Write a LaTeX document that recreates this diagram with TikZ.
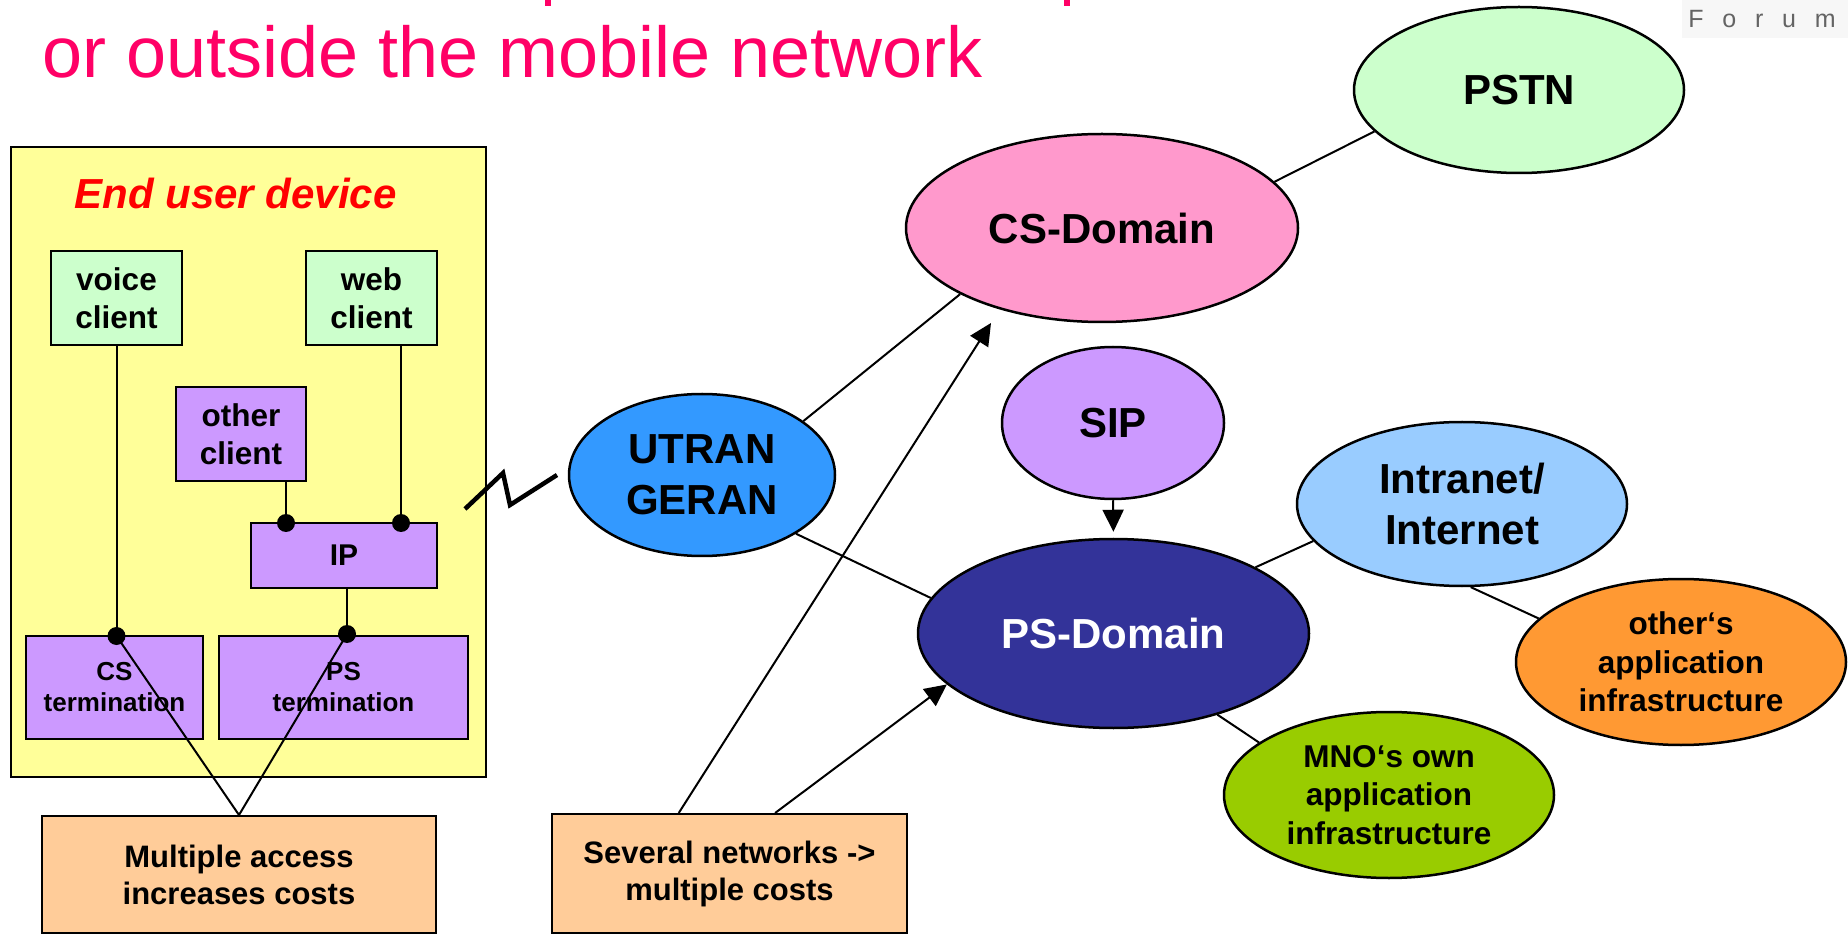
\documentclass[tikz,border=0pt]{standalone}
\usepackage{fontspec}
\setmainfont{Liberation Sans}
\usetikzlibrary{shapes.geometric,arrows.meta,calc}
\definecolor{titlepink}{RGB}{255,0,102}
\definecolor{devyellow}{RGB}{255,255,153}
\definecolor{clientgreen}{RGB}{204,255,204}
\definecolor{lilac}{RGB}{204,153,255}
\definecolor{peach}{RGB}{255,204,153}
\definecolor{cspink}{RGB}{255,153,204}
\definecolor{utranblue}{RGB}{51,153,255}
\definecolor{psblue}{RGB}{51,51,153}
\definecolor{netblue}{RGB}{153,204,255}
\definecolor{othorange}{RGB}{255,153,51}
\definecolor{mnogreen}{RGB}{153,204,0}
\definecolor{logobg}{RGB}{247,247,247}
\definecolor{forumgray}{RGB}{100,100,100}
\tikzset{
  box/.style={rectangle, draw=black, line width=1pt, inner sep=0pt, align=center,
    font=\bfseries\fontsize{15.75}{19}\selectfont},
  smallbox/.style={box, font=\bfseries\fontsize{13}{15.5}\selectfont},
  ell/.style={ellipse, draw=black, line width=1.25pt, inner sep=0pt, align=center,
    font=\bfseries\fontsize{21}{25.75}\selectfont},
  smallell/.style={ell, font=\bfseries\fontsize{15.75}{19.25}\selectfont},
  conn/.style={line width=1pt},
  arr/.style={line width=1pt, -{Triangle[length=11pt,width=10.5pt]}},
  dotn/.style={circle, fill=black, inner sep=0pt, minimum size=9pt},
}
\begin{document}
\begin{tikzpicture}[x=0.5pt,y=-0.5pt]
\useasboundingbox (0,0) rectangle (1848,935);
\fill[white] (0,0) rectangle (1848,935);

% cut-off first title line and logo
\fill[titlepink] (545,0) rectangle (551,6);
\fill[titlepink] (1064,0) rectangle (1070,6);
\fill[logobg] (1682,0) rectangle (1848,38);
\node[anchor=base west, inner sep=0pt, text=forumgray,
  font=\fontsize{12.5}{14}\selectfont\addfontfeature{LetterSpace=75}] (forum) at (1688,28) {Forum};

% title
\node[anchor=base west, inner sep=0pt, text=titlepink, font=\fontsize{36}{43}\selectfont] (title) at (42,78) {or outside the mobile network};

% end user device
\node[box, fill=devyellow, minimum width=237.5pt, minimum height=315pt] (dev) at (248.5,462) {};
\node[anchor=base west, inner sep=0pt, text=red, font=\bfseries\itshape\fontsize{21}{25}\selectfont] (devlabel) at (74,209) {End user device};

\node[box, fill=clientgreen, minimum width=65.5pt, minimum height=47pt] (voice) at (116.5,298) {voice\\client};
\node[box, fill=clientgreen, minimum width=65.5pt, minimum height=47pt] (web) at (371.5,298) {web\\client};
\node[box, fill=lilac, minimum width=65pt, minimum height=47pt] (other) at (241,434) {other\\client};
\node[box, fill=lilac, minimum width=93pt, minimum height=32.5pt, font=\bfseries\fontsize{15}{18}\selectfont] (ip) at (344,555.5) {IP};
\node[smallbox, fill=lilac, minimum width=88.5pt, minimum height=51.5pt] (csterm) at (114.5,687.5) {CS\\termination};
\node[smallbox, fill=lilac, minimum width=124.5pt, minimum height=51.5pt] (psterm) at (343.5,687.5) {PS\\termination};

\node[box, fill=peach, minimum width=197pt, minimum height=58.5pt, font=\bfseries\fontsize{15.5}{18.5}\selectfont] (multi) at (239,874.5) {Multiple access\\increases costs};
\node[box, fill=peach, minimum width=177.5pt, minimum height=59.5pt, font=\bfseries\fontsize{15.5}{18.5}\selectfont] (several) at (729.5,873.5) {Several networks ->\\multiple costs};

% internal connectors
\draw[conn] (voice.south) -- (116.5,636);
\draw[conn] (web.south -| 401,0) -- (401,523);
\draw[conn] (other.south -| 286,0) -- (286,523);
\draw[conn] (ip.south -| 347,0) -- (347,634);
\node[dotn] (vdot) at (116.5,636) {};
\node[dotn] (wdot) at (401,523) {};
\node[dotn] (odot) at (286,523) {};
\node[dotn] (ipdot) at (347,634) {};
\draw[conn] (vdot.center) -- (multi.north);
\draw[conn] (ipdot.center) -- (multi.north);

% network ellipses
\node[ell, fill=clientgreen, minimum width=165pt, minimum height=83pt] (pstn) at (1519,90) {PSTN};
\node[ell, fill=cspink, minimum width=196pt, minimum height=94pt] (cs) at (1102,228) {CS-Domain};
\node[ell, fill=lilac, minimum width=111pt, minimum height=76pt] (sip) at (1113,423) {SIP};
\node[ell, fill=utranblue, minimum width=133pt, minimum height=81pt] (utran) at (702,475) {UTRAN\\GERAN};
\node[ell, fill=psblue, text=white, minimum width=195.5pt, minimum height=94.5pt] (ps) at (1113.5,633.5) {PS-Domain};
\node[ell, fill=netblue, minimum width=165pt, minimum height=82pt] (net) at (1462,504) {Intranet/\\Internet};
\node[smallell, fill=othorange, minimum width=165pt, minimum height=83pt] (others) at (1681,662) {other‘s\\application\\infrastructure};
\node[smallell, fill=mnogreen, minimum width=165pt, minimum height=83pt] (mno) at (1389,795) {MNO‘s own\\application\\infrastructure};

% radio link
\draw[line width=2.25pt] (465,509) -- (503,473) -- (510,505) -- (557,475);

% network connectors
\draw[conn] (pstn.196.6) -- (cs.15.5);
\draw[conn] (utran.28.8) -- (cs.205.7);
\draw[conn] (utran.-32) -- (ps.169.2);
\draw[conn] (ps.25.3) -- (net.194.8);
\draw[conn] (net.-84) -- (others.163.7);
\draw[conn] (ps.-38) -- (mno.158);
\draw[arr, shorten >=3pt] (sip.south) -- (ps.north);
\coordinate (cstip) at (991,323);
\draw[arr] (several.130.3) -- (cstip);
\draw[arr] (several.53.8) -- (ps.197);
\end{tikzpicture}
\end{document}
